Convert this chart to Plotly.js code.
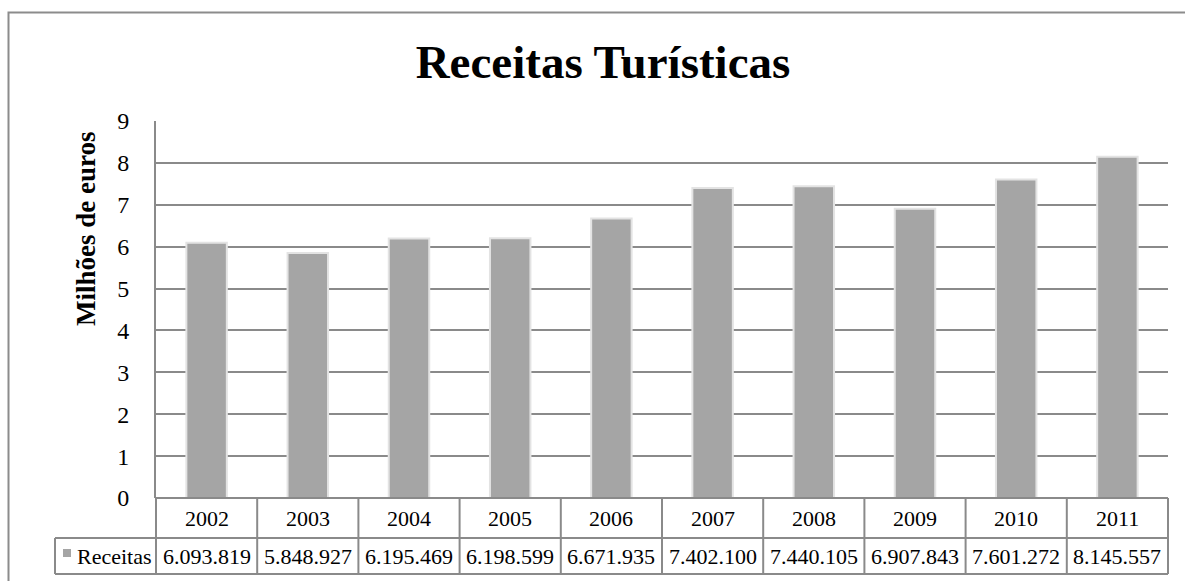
<!DOCTYPE html>
<html>
<head>
<meta charset="utf-8">
<script src="https://cdn.plot.ly/plotly-3.0.1.min.js"></script>
<style>html,body{margin:0;padding:0;background:#fff;}#chart{width:1185px;height:581px;}</style>
</head>
<body>
<div id="chart"></div>
<script>
// ---- data ----
const years = ["2002","2003","2004","2005","2006","2007","2008","2009","2010","2011"];
const receitas = [6093819, 5848927, 6195469, 6198599, 6671935, 7402100, 7440105, 6907843, 7601272, 8145557];
const seriesName = "Receitas";
const chartTitle = "Receitas Turísticas";
const yTitle = "Milhões de euros";
const yTicks = [0,1,2,3,4,5,6,7,8,9];

// ---- helpers ----
function fmt(v){ return String(v).replace(/\B(?=(\d{3})+(?!\d))/g, "."); }
const FONT = "Liberation Serif, Times New Roman, serif";
const GRID = "#8a8a8a";
const W = 1185, H = 581, L = 156, R = 17, T = 121, B = 83;
const pw = W - L - R, ph = H - T - B;
const px = x => (x - L) / pw;          // pixel -> paper x
const py = y => (H - B - y) / ph;      // pixel -> paper y

const n = years.length;
const rowTop = py(498), rowMid = py(538), rowBot = py(574);
const legLeft = px(55);

const shapes = [];
// outer frame
shapes.push({type:"rect", xref:"paper", yref:"paper", x0:px(8.5), x1:px(1200), y0:py(12.5), y1:py(600),
  line:{color:"#8c8c8c", width:2}, fillcolor:"rgba(0,0,0,0)", layer:"below"});
// table horizontal lines
shapes.push({type:"line", xref:"paper", yref:"paper", x0:0, x1:1, y0:rowTop, y1:rowTop, line:{color:GRID, width:2}});
shapes.push({type:"line", xref:"paper", yref:"paper", x0:legLeft, x1:1, y0:rowMid, y1:rowMid, line:{color:GRID, width:2}});
shapes.push({type:"line", xref:"paper", yref:"paper", x0:legLeft, x1:1, y0:rowBot, y1:rowBot, line:{color:GRID, width:2}});
// legend cell left border
shapes.push({type:"line", xref:"paper", yref:"paper", x0:legLeft, x1:legLeft, y0:rowMid, y1:rowBot, line:{color:GRID, width:2}});
// column borders
for (let i = 0; i <= n; i++) {
  shapes.push({type:"line", xref:"paper", yref:"paper", x0:i/n, x1:i/n, y0:rowTop, y1:rowBot, line:{color:GRID, width:2}});
}
// legend key
shapes.push({type:"rect", xref:"paper", yref:"paper", x0:px(63), x1:px(71), y0:py(557), y1:py(549),
  line:{width:0}, fillcolor:"#a5a5a5"});

const annotations = [];
years.forEach((yr, i) => {
  annotations.push({xref:"x", yref:"paper", x:i, y:py(518), text:yr, showarrow:false,
    font:{family:FONT, size:22, color:"#000"}, xanchor:"center", yanchor:"middle"});
  annotations.push({xref:"x", yref:"paper", x:i, y:py(556), text:fmt(receitas[i]), showarrow:false,
    font:{family:FONT, size:22, color:"#000"}, xanchor:"center", yanchor:"middle"});
});
annotations.push({xref:"paper", yref:"paper", x:px(75), y:py(556), text:seriesName, showarrow:false,
  font:{family:FONT, size:22, color:"#000"}, xanchor:"left", yanchor:"middle"});
annotations.push({xref:"paper", yref:"paper", x:px(86), y:py(229), text:"<b>"+yTitle+"</b>", showarrow:false,
  textangle:-90, font:{family:FONT, size:27, color:"#000"}, xanchor:"center", yanchor:"middle"});

const trace = {
  type:"bar", x:years, y:receitas.map(v => v/1e6), name:seriesName,
  marker:{color:"#a5a5a5", line:{color:"#e3e3e3", width:2}},
  hoverinfo:"none"
};

const layout = {
  width:W, height:H,
  margin:{l:L, r:R, t:T, b:B, pad:0},
  paper_bgcolor:"#fff", plot_bgcolor:"#fff",
  showlegend:false,
  bargap:0.6,
  title:{text:"<b>"+chartTitle+"</b>", font:{family:FONT, size:47, color:"#000"},
    xref:"container", yref:"container", x:603/W, y:1-62/H, xanchor:"center", yanchor:"middle"},
  xaxis:{type:"category", categoryorder:"array", categoryarray:years, showticklabels:false,
    showgrid:false, zeroline:false, showline:false, ticks:"", range:[-0.5, n-0.5], fixedrange:true},
  yaxis:{range:[0,9], tickvals:yTicks, showgrid:true, gridcolor:GRID, gridwidth:2,
    zeroline:false, showline:true, linecolor:GRID, linewidth:2,
    ticks:"outside", ticklen:20, tickcolor:"rgba(0,0,0,0)",
    tickfont:{family:FONT, size:24, color:"#000"}, fixedrange:true},
  shapes:shapes, annotations:annotations
};

Plotly.newPlot("chart", [trace], layout, {staticPlot:true, displayModeBar:false});
</script>
</body>
</html>
